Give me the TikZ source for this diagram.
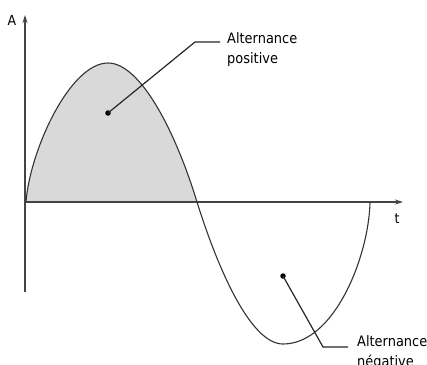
\documentclass[tikz,border=0pt]{standalone}
\usepackage{fontspec}
\setmainfont{DejaVu Sans Condensed}
\usepackage{xcolor}
\usetikzlibrary{arrows.meta, positioning}
\definecolor{curveline}{HTML}{333333}
\definecolor{axisline}{HTML}{444444}
\definecolor{posfill}{HTML}{D9D9D9}
\tikzset{
  axis/.style={
    -{Stealth[length=8pt, width=5pt]},
    line width=1.1pt,
    color=axisline
  },
  wave/.style={
    line width=1.1pt,
    color=curveline
  },
  leader/.style={
    line width=1.2pt,
    color=black!85
  },
  dot/.style={
    circle, fill=black, inner sep=0pt, minimum size=5.5pt
  },
  callout/.style={
    font=\fontsize{14.4}{20.5}\selectfont,
    align=left, inner sep=0pt, anchor=north west
  },
  axis label/.style={
    font=\fontsize{13.9}{16}\selectfont, inner sep=0pt
  }
}

\begin{document}
\begin{tikzpicture}[x=1pt, y=-1pt]
  \useasboundingbox (0,0) rectangle (427,364);

  % Positive half wave (filled)
  \fill[posfill] (26,202) .. controls (30,150) and (70,63) .. (108,63)
    .. controls (140,63) and (175,130) .. (197,202) -- cycle;

  % Axes
  \coordinate (origin) at (25,202);
  \coordinate (ytop) at (25,15);
  \coordinate (ybot) at (25,292);
  \coordinate (xend) at (403,202);
  \draw[axis] (ybot) -- (ytop);
  \draw[axis] (origin) -- (xend);
  \node[axis label] (alabel) at (12,20) {A};
  \node[axis label] (tlabel) at (397,219) {t};

  % Wave
  \draw[wave] (26,202) .. controls (30,150) and (70,63) .. (108,63)
    .. controls (140,63) and (175,130) .. (197,202)
    .. controls (217,266) and (250,344) .. (283,344)
    .. controls (335,344) and (369,255) .. (370,202);

  % Callout: positive
  \node[dot] (posdot) at (108,113) {};
  \coordinate (posbend) at (195,42);
  \coordinate (posend) at (220,42);
  \draw[leader] (posdot.center) -- (posbend) -- (posend);
  \node[callout] (poslabel) at (227,32) {Alternance\\positive};

  % Callout: negative
  \node[dot] (negdot) at (283,276) {};
  \coordinate (negbend) at (323,347);
  \coordinate (negend) at (348,347);
  \draw[leader] (negdot.center) -- (negbend) -- (negend);
  \node[callout] (neglabel) at (357,335) {Alternance\\négative};
\end{tikzpicture}
\end{document}
